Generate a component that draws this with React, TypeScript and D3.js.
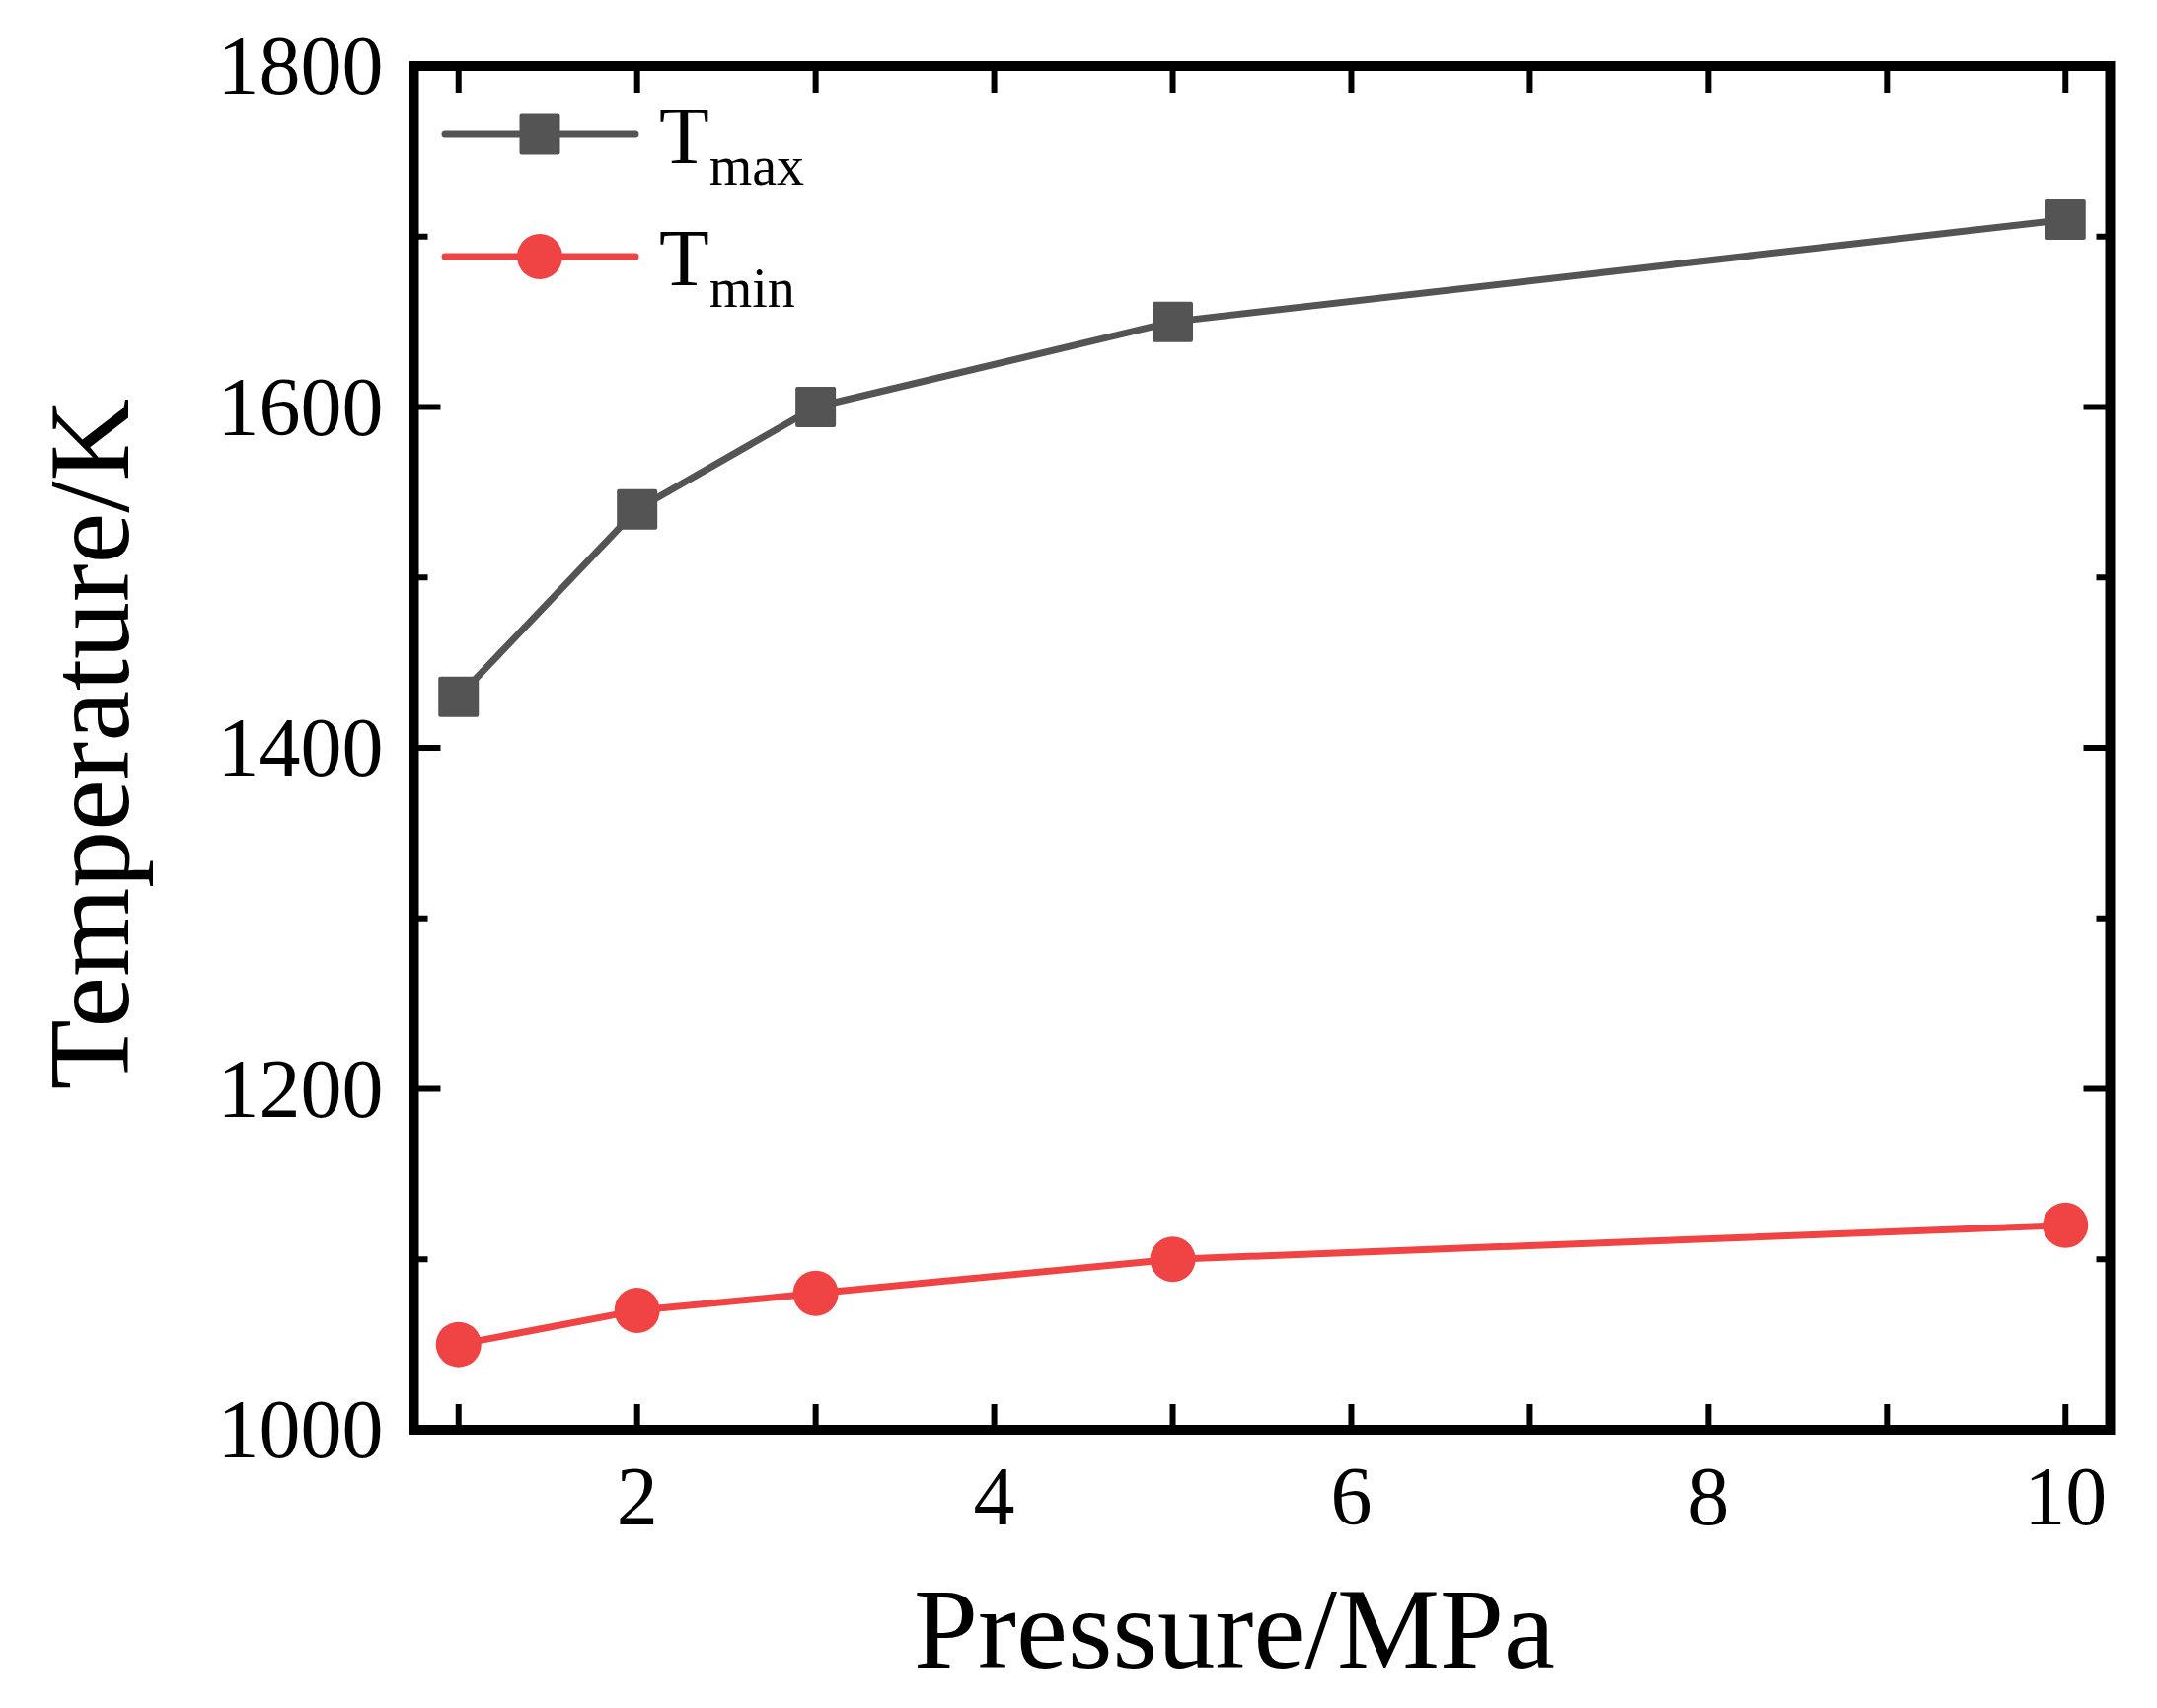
// Temperature vs pressure line chart (Tmax / Tmin), Origin-style frame
import { useEffect, useRef } from "react"
import * as d3 from "d3"

const pressure = [1, 2, 3, 5, 10]
const tMax = [1430, 1540, 1600, 1650, 1710]
const tMin = [1050, 1070, 1080, 1100, 1120]

const xTicks = [1, 2, 3, 4, 5, 6, 7, 8, 9, 10]
const xLabels = [2, 4, 6, 8, 10]
const yTicks = [1000, 1100, 1200, 1300, 1400, 1500, 1600, 1700, 1800]
const yLabels = [1000, 1200, 1400, 1600, 1800]

const W = 2186
const H = 1731
const FONT = "'Liberation Serif', 'Times New Roman', serif"
const GRAY = "#545454"
const RED = "#F04343"

export default function App() {
  const svgRef = useRef<SVGSVGElement>(null)

  useEffect(() => {
    if (!svgRef.current) return
    const svg = d3.select(svgRef.current)
    svg.selectAll("*").remove()

    const left = 419.5, right = 2138.5, top = 67, bottom = 1449

    const x = d3.scaleLinear().domain([0.75, 10.25]).range([left, right])
    const y = d3.scaleLinear().domain([1000, 1800]).range([bottom, top])

    svg.append("rect").attr("width", W).attr("height", H).attr("fill", "#fff")

    // Ticks (inward, on all four sides)
    const tickG = svg.append("g").attr("stroke", "#000").attr("stroke-width", 6)
    xTicks.forEach(t => {
      tickG.append("line").attr("x1", x(t)).attr("x2", x(t)).attr("y1", bottom).attr("y2", bottom - 26)
      tickG.append("line").attr("x1", x(t)).attr("x2", x(t)).attr("y1", top).attr("y2", top + 27)
    })
    yTicks.forEach(t => {
      const len = yLabels.includes(t) ? 27 : 14
      tickG.append("line").attr("x1", left).attr("x2", left + len).attr("y1", y(t)).attr("y2", y(t))
      tickG.append("line").attr("x1", right).attr("x2", right - len).attr("y1", y(t)).attr("y2", y(t))
    })

    // Tick labels
    svg.append("g").selectAll("text").data(xLabels).enter().append("text")
      .attr("x", d => x(d)).attr("y", bottom + 96)
      .attr("text-anchor", "middle")
      .attr("font-family", FONT).attr("font-size", 84)
      .text(d => d)

    svg.append("g").selectAll("text").data(yLabels).enter().append("text")
      .attr("x", left - 31).attr("y", d => y(d) + 28)
      .attr("text-anchor", "end")
      .attr("font-family", FONT).attr("font-size", 84)
      .text(d => d)

    // Series
    const pts = (vals: number[]) => pressure.map((p, i) => [p, vals[i]] as [number, number])
    const line = d3.line<[number, number]>().x(d => x(d[0])).y(d => y(d[1]))

    svg.append("path").datum(pts(tMax))
      .attr("d", line).attr("fill", "none").attr("stroke", GRAY)
      .attr("stroke-width", 7).attr("stroke-linejoin", "round")
    svg.append("g").selectAll("rect").data(pts(tMax)).enter().append("rect")
      .attr("x", d => x(d[0]) - 20.5).attr("y", d => y(d[1]) - 20.5)
      .attr("width", 41).attr("height", 41).attr("rx", 2)
      .attr("fill", GRAY)

    svg.append("path").datum(pts(tMin))
      .attr("d", line).attr("fill", "none").attr("stroke", RED)
      .attr("stroke-width", 7).attr("stroke-linejoin", "round")
    svg.append("g").selectAll("circle").data(pts(tMin)).enter().append("circle")
      .attr("cx", d => x(d[0])).attr("cy", d => y(d[1])).attr("r", 23)
      .attr("fill", RED)

    // Frame
    svg.append("rect")
      .attr("x", left).attr("y", top)
      .attr("width", right - left).attr("height", bottom - top)
      .attr("fill", "none").attr("stroke", "#000").attr("stroke-width", 10)
      .attr("stroke-linejoin", "miter")

    // Legend
    const legend = [
      { name: "max", color: GRAY, shape: "square", y: 136 },
      { name: "min", color: RED, shape: "circle", y: 260 }
    ]
    legend.forEach(l => {
      const g = svg.append("g")
      g.append("line").attr("x1", 451).attr("x2", 644).attr("y1", l.y).attr("y2", l.y)
        .attr("stroke", l.color).attr("stroke-width", 7).attr("stroke-linecap", "round")
      if (l.shape === "square") {
        g.append("rect").attr("x", 547 - 20.5).attr("y", l.y - 20.5)
          .attr("width", 41).attr("height", 41).attr("rx", 2).attr("fill", l.color)
      } else {
        g.append("circle").attr("cx", 547).attr("cy", l.y).attr("r", 23).attr("fill", l.color)
      }
      const t = g.append("text").attr("x", 668).attr("y", l.y + 29)
        .attr("font-family", FONT).attr("font-size", 83)
      t.append("tspan").text("T")
      t.append("tspan").attr("dy", 22).attr("font-size", 56).text(l.name)
    })

    // Axis titles
    svg.append("text")
      .attr("x", 1251).attr("y", 1690)
      .attr("text-anchor", "middle")
      .attr("font-family", FONT).attr("font-size", 117)
      .text("Pressure/MPa")

    svg.append("text")
      .attr("transform", "translate(130,754) rotate(-90)")
      .attr("text-anchor", "middle")
      .attr("font-family", FONT).attr("font-size", 116)
      .text("Temperature/K")
  }, [])

  return (
    <svg
      ref={svgRef}
      width={W}
      height={H}
      style={{ position: "absolute", left: 0, top: 0, display: "block" }}
    />
  )
}
